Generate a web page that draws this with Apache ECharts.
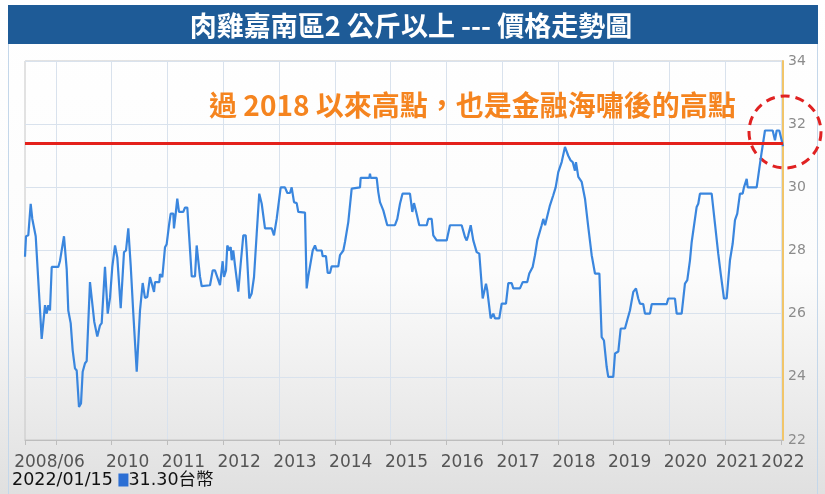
<!DOCTYPE html>
<html><head><meta charset="utf-8">
<script src="https://cdn.jsdelivr.net/npm/echarts@6/dist/echarts.min.js"></script>
<style>html,body{margin:0;padding:0;background:#fff}#c{width:825px;height:494px}</style>
</head><body><div id="c"></div>
<script>
// decimal years of each observation
const years = [
2008.450,2008.468,2008.509,2008.552,2008.581,2008.611,2008.642,2008.749,2008.809,2008.839,
2008.868,2008.898,2008.929,2009.047,2009.077,2009.108,2009.149,2009.198,2009.226,2009.269,
2009.305,2009.346,2009.377,2009.418,2009.454,2009.484,2009.526,2009.556,2009.615,2009.646,
2009.692,2009.746,2009.795,2009.825,2009.884,2009.933,2009.974,2010.015,2010.064,2010.105,
2010.166,2010.225,2010.261,2010.302,2010.345,2010.392,2010.453,2010.512,2010.560,2010.601,
2010.643,2010.691,2010.721,2010.763,2010.781,2010.858,2010.870,2010.912,2010.960,2010.990,
2011.032,2011.062,2011.109,2011.121,2011.152,2011.180,2011.211,2011.288,2011.318,2011.360,
2011.439,2011.498,2011.528,2011.557,2011.587,2011.618,
2011.767,2011.815,2011.856,2011.916,2011.946,2011.994,2012.018,2012.054,2012.077,2012.113,
2012.138,2012.156,2012.184,2012.215,2012.274,2012.317,2012.364,2012.407,2012.425,2012.471,
2012.514,2012.556,2012.604,2012.650,2012.694,2012.753,2012.873,2012.914,2012.962,2012.991,
2013.034,2013.111,2013.153,2013.201,2013.231,2013.273,2013.321,2013.350,2013.470,2013.500,
2013.529,2013.560,2013.608,2013.649,2013.680,2013.769,2013.787,2013.846,2013.877,2013.918,
2013.948,2014.067,2014.097,2014.157,2014.187,2014.246,2014.307,2014.456,2014.468,2014.622,
2014.635,2014.648,2014.755,2014.784,2014.814,2014.845,2014.874,2014.904,2014.945,2015.083,
2015.125,2015.173,2015.218,2015.352,2015.394,2015.424,2015.460,2015.519,
2015.652,2015.680,2015.741,2015.770,2015.831,2016.010,2016.069,2016.279,2016.338,2016.369,
2016.397,2016.441,2016.487,2016.548,2016.595,2016.656,2016.715,2016.738,2016.799,2016.846,
2016.876,2016.953,2016.996,2017.073,2017.115,2017.175,2017.204,2017.324,2017.373,2017.455,
2017.491,2017.552,2017.593,2017.635,2017.670,2017.713,2017.742,2017.774,2017.803,2017.862,
2017.921,2017.964,2018.011,2018.072,2018.131,2018.190,2018.233,2018.269,2018.310,2018.328,
2018.370,2018.431,2018.490,2018.549,2018.610,2018.669,2018.748,2018.789,2018.830,2018.879,
2018.907,2018.997,2019.028,2019.087,
2019.130,2019.207,2019.248,2019.296,2019.356,2019.404,2019.445,2019.476,2019.535,2019.565,
2019.655,2019.686,2019.954,2019.983,2020.103,2020.134,2020.223,2020.282,2020.324,2020.372,
2020.403,2020.431,2020.492,2020.521,2020.551,2020.761,2020.820,2020.879,2020.923,2020.982,
2021.030,2021.089,2021.138,2021.179,2021.220,2021.268,2021.317,2021.340,2021.389,2021.407,
2021.568,2021.615,2021.658,2021.717,2021.855,2021.896,2021.927,2021.973,2022.016,2022.040
];
// price (台幣)
const prices = [
27.8,28.45,28.48,29.48,29.0,29.0,28.45,25.2,26.27,26.0,
26.27,26.1,27.48,27.48,27.67,27.7,28.45,27.4,26.1,25.7,
24.84,24.27,24.2,23.05,23.16,24.16,24.43,24.5,27.0,27.0,
25.74,25.28,25.63,25.7,27.48,26.0,26.5,27.48,28.16,27.78,
26.17,27.95,28.0,28.7,27.53,26.0,24.16,26.1,26.97,26.5,
26.53,27.16,27.16,26.69,27.0,27.0,27.25,27.16,28.1,28.2,
28.8,29.17,29.17,28.7,29.17,29.64,29.22,29.22,29.36,29.36,
27.18,27.18,28.16,28.16,27.18,26.87,
26.9,27.37,27.37,27.06,26.9,27.66,27.16,27.37,28.16,28.0,
28.11,27.69,28.0,27.53,26.7,27.58,28.48,28.48,28.0,26.48,
26.64,27.16,28.53,29.8,29.48,28.7,28.7,28.48,29.0,29.05,
30.0,30.0,29.82,29.82,30.0,29.53,29.5,29.22,29.2,26.8,
27.18,27.18,28.0,28.16,28.0,28.0,27.82,27.82,27.29,27.29,
27.5,27.5,27.85,28.0,28.27,28.9,29.96,30.0,30.3,30.3,
30.43,30.3,30.3,29.85,29.53,29.5,29.27,29.22,28.8,28.8,
29.0,29.48,29.8,29.8,29.22,29.5,29.25,28.8,
28.8,29.0,29.0,28.48,28.32,28.32,28.8,28.8,28.43,28.32,
28.48,28.8,28.32,27.95,27.9,26.48,26.95,26.74,25.85,26.0,
25.85,25.85,26.32,26.32,26.97,26.97,26.8,26.8,27.0,27.0,
27.27,27.48,27.85,28.32,28.35,28.8,29.0,28.8,28.8,29.43,
29.75,30.0,30.48,30.8,31.28,31.0,30.85,30.8,30.53,30.8,
30.33,30.17,29.64,28.74,27.85,27.27,27.27,25.26,25.15,24.31,
24.0,24.0,24.74,24.8,
25.53,25.53,25.8,26.1,26.69,26.8,26.48,26.32,26.3,26.0,
26.0,26.3,26.3,26.48,26.48,26.0,26.0,26.95,27.06,27.69,
28.27,28.3,29.38,29.48,29.8,29.8,28.85,27.9,27.27,26.48,
26.48,27.69,28.22,28.96,29.17,29.8,29.8,30.0,30.27,30.0,
30.0,30.59,31.12,31.8,31.8,31.49,31.8,31.8,31.49,31.3
];
const yearTicks = [2009,2010,2011,2012,2013,2014,2015,2016,2017,2018,2019,2020,2021,2022];
const xLabelTexts = ['2008/06','2010','2011','2012','2013','2014','2015','2016','2017','2018','2019','2020','2021','2022'];
const yTicks = [22,24,26,28,30,32,34];
const refLevel = 31.4;
const lastDate = '2022/01/15';
const lastPrice = '31.30台幣';
const titleText = '肉雞嘉南區2 公斤以上 --- 價格走勢圖';
const noteText = '過 2018 以來高點，也是金融海嘯後的高點';

const X_MIN = 2008.45, X_MAX = 2022.04;
const N = xLabelTexts.length;
const labelPos = xLabelTexts.map((t, i) => i === 0 ? 2008.89 : (i === N - 1 ? X_MAX - 0.001 : Number(t) + (i === N - 2 ? 0.22 : 0.29)));
const seriesData = years.map((y, i) => [y, prices[i]]);
const GRID = '#d9e2ed';
const GRID_TOP = 61, GRID_BOTTOM = 54, CHART_H = 494;

const chart = echarts.init(document.getElementById('c'), null, {renderer: 'canvas'});
chart.setOption({
  animation: false,
  backgroundColor: {type: 'linear', x: 0, y: 0, x2: 0, y2: 1,
    colorStops: [{offset: 0, color: '#ffffff'}, {offset: 0.55, color: '#fcfcfc'}, {offset: 1, color: '#e0e0e0'}]},
  grid: {left: 25, right: 42, top: GRID_TOP, bottom: GRID_BOTTOM, show: true, borderColor: '#c6c6c6', borderWidth: 1, backgroundColor: 'transparent'},
  xAxis: {
    type: 'value', min: X_MIN, max: X_MAX, position: 'bottom',
    axisLine: {show: true, lineStyle: {color: '#bdbdbd'}},
    axisTick: {show: false},
    splitLine: {show: false},
    axisLabel: {
      customValues: labelPos, color: '#555', fontSize: 17, margin: 14, fontFamily: 'DejaVu Sans',
      hideOverlap: false, showMaxLabel: true, showMinLabel: true,
      formatter: function (v) {
        let best = 0, d = 1e9;
        labelPos.forEach((p, i) => { if (Math.abs(p - v) < d) { d = Math.abs(p - v); best = i; } });
        return xLabelTexts[best];
      }
    }
  },
  yAxis: {
    type: 'value', position: 'right', min: yTicks[0], max: yTicks[yTicks.length - 1], interval: 2,
    axisLine: {show: true, lineStyle: {color: '#f1c56a', width: 2}},
    axisTick: {show: false},
    axisLabel: {color: '#8c8c8c', fontSize: 14, margin: 5, fontFamily: 'DejaVu Sans', padding: [0, 0, 5, 0]},
    splitLine: {show: true, lineStyle: {color: GRID, width: 1}}
  },
  series: [
    {
      type: 'line', data: seriesData, showSymbol: false, symbol: 'none', z: 3,
      lineStyle: {color: '#3a86de', width: 2.2},
      markLine: {silent: true, symbol: 'none', label: {show: false},
        lineStyle: {color: '#e4211b', width: 3, type: 'solid'},
        data: [{yAxis: refLevel}]}
    }
  ]
});

// vertical year grid lines and ticks, placed through the chart's own x scale
const yBottom = CHART_H - GRID_BOTTOM;
const gridEls = [];
[X_MIN].concat(yearTicks).forEach(function (y) {
  const px = Math.round(chart.convertToPixel({xAxisIndex: 0}, y)) + 0.5;
  if (y !== X_MIN) {
    gridEls.push({type: 'line', z: -1, silent: true, shape: {x1: px, y1: GRID_TOP, x2: px, y2: yBottom},
      style: {stroke: GRID, lineWidth: 1}});
  }
  gridEls.push({type: 'line', z: -1, silent: true, shape: {x1: px, y1: yBottom, x2: px, y2: yBottom + 5},
    style: {stroke: '#bdbdbd', lineWidth: 1}});
});

chart.setOption({
  graphic: gridEls.concat([
    {type: 'rect', shape: {x: 8.5, y: 6.5, width: 809, height: 490}, style: {fill: 'none', stroke: '#c4d7ea', lineWidth: 1}, z: 1},
    {type: 'rect', shape: {x: 8, y: 5, width: 810, height: 39}, style: {fill: '#1e5b97'}, z: 2},
    {type: 'text', x: 411, y: 26, style: {text: titleText, fill: '#ffffff', fontSize: 27, fontWeight: 'bold',
      fontFamily: 'Noto Sans CJK TC', textAlign: 'center', verticalAlign: 'middle'}, z: 3},
    {type: 'text', x: 209, y: 105, style: {text: noteText, fill: '#f5841f', fontSize: 28, fontWeight: 'bold',
      fontFamily: 'Noto Sans CJK TC', textAlign: 'left', verticalAlign: 'middle'}, z: 3},
    {type: 'circle', shape: {cx: 785, cy: 132, r: 36}, style: {fill: 'none', stroke: '#e02222', lineWidth: 3, lineDash: [9, 6]}, z: 3},
    {type: 'text', x: 12, y: 480, style: {
      text: '{a|' + lastDate + ' }{b|}{a|' + lastPrice + '}', verticalAlign: 'middle',
      rich: {
        a: {fontSize: 17.5, fill: '#111', fontFamily: 'DejaVu Sans, Noto Sans CJK TC'},
        b: {width: 10, height: 13, backgroundColor: '#2c6fd4'}
      }}, z: 3}
  ])
});
</script>
</body></html>
